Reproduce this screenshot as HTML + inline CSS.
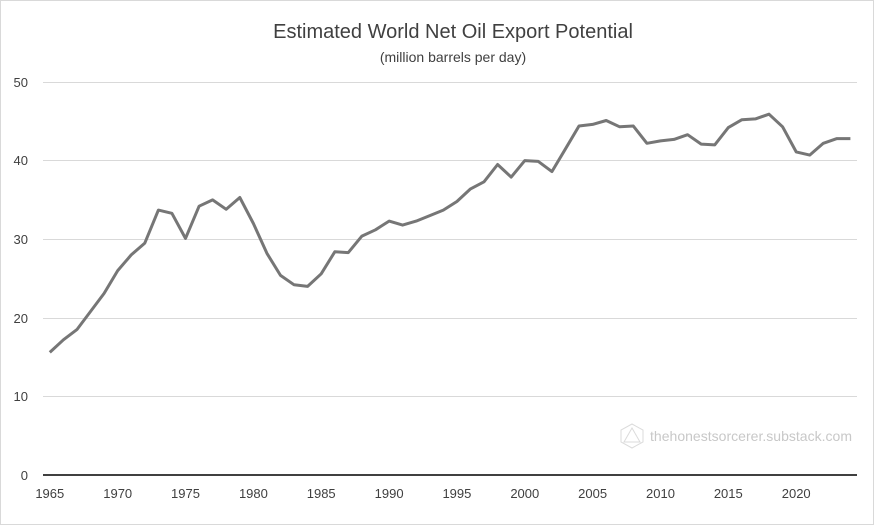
<!DOCTYPE html>
<html><head><meta charset="utf-8"><style>
body{margin:0;background:#fff}
svg{display:block;font-family:"Liberation Sans",sans-serif}
</style></head><body>
<svg width="875" height="526" viewBox="0 0 875 526" xmlns="http://www.w3.org/2000/svg">
<rect x="0.5" y="0.5" width="873" height="524" fill="#fff" stroke="#d9d9d9"/>
<text x="453" y="38" text-anchor="middle" font-size="20" fill="#404040">Estimated World Net Oil Export Potential</text>
<text x="453" y="62" text-anchor="middle" font-size="14" fill="#404040">(million barrels per day)</text>
<g stroke="#d9d9d9" stroke-width="1">
<line x1="43" x2="857" y1="82.5" y2="82.5"/>
<line x1="43" x2="857" y1="160.5" y2="160.5"/>
<line x1="43" x2="857" y1="239.5" y2="239.5"/>
<line x1="43" x2="857" y1="318.5" y2="318.5"/>
<line x1="43" x2="857" y1="396.5" y2="396.5"/>
</g>
<line x1="43" x2="857" y1="475" y2="475" stroke="#000" stroke-width="1.5"/>
<g font-size="13" fill="#404040" text-anchor="end">
<text x="28" y="87">50</text><text x="28" y="165">40</text><text x="28" y="244">30</text>
<text x="28" y="323">20</text><text x="28" y="401">10</text><text x="28" y="480">0</text>
</g>
<g font-size="13" fill="#404040" text-anchor="middle">
<text x="49.8" y="498">1965</text><text x="117.7" y="498">1970</text><text x="185.5" y="498">1975</text>
<text x="253.4" y="498">1980</text><text x="321.2" y="498">1985</text><text x="389.1" y="498">1990</text>
<text x="456.9" y="498">1995</text><text x="524.8" y="498">2000</text><text x="592.6" y="498">2005</text>
<text x="660.5" y="498">2010</text><text x="728.3" y="498">2015</text><text x="796.2" y="498">2020</text>
</g>
<g opacity="0.35" stroke="#999" fill="none" stroke-width="1">
<polygon points="632,424 643,430 643,442 632,448 621,442 621,430"/>
<polygon points="632,428 640,442 624,442"/>
</g>
<text x="650" y="441" font-size="14" fill="#c8c8c8" textLength="202">thehonestsorcerer.substack.com</text>
<polyline fill="none" stroke="#767676" stroke-width="3" stroke-linejoin="round" points="49.8,352.4 63.4,339.8 76.9,329.6 90.5,311.5 104.1,293.4 117.7,270.6 131.2,254.9 144.8,243.1 158.4,210.1 171.9,213.3 185.5,238.4 199.1,206.2 212.6,199.9 226.2,209.3 239.8,197.5 253.4,223.5 266.9,253.3 280.5,275.4 294.1,284.8 307.6,286.4 321.2,273.8 334.8,251.8 348.3,252.6 361.9,236.1 375.5,229.8 389.1,221.1 402.6,225.1 416.2,221.1 429.8,215.6 443.3,210.1 456.9,201.5 470.5,188.9 484.0,181.8 497.6,164.5 511.2,177.1 524.8,160.6 538.3,161.4 551.9,171.6 565.5,148.8 579.0,126.0 592.6,124.4 606.2,120.5 619.7,126.8 633.3,126.0 646.9,143.3 660.5,140.9 674.0,139.4 687.6,134.7 701.2,144.1 714.7,144.9 728.3,127.6 741.9,119.7 755.4,118.9 769.0,114.2 782.6,126.8 796.2,151.9 809.7,155.1 823.3,143.3 836.9,138.6 850.4,138.6"/>
</svg>
</body></html>
